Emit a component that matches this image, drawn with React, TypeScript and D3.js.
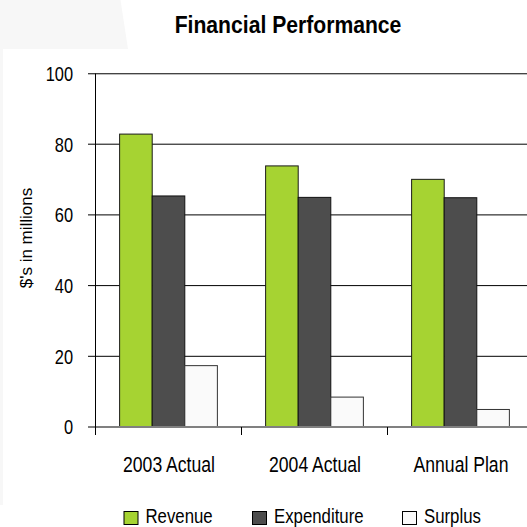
import React from "react";
import * as d3 from "d3";

const categories = ["2003 Actual", "2004 Actual", "Annual Plan"];
const seriesNames = ["Revenue", "Expenditure", "Surplus"];
const revenue = [83, 74, 70.2];
const expenditure = [65.5, 65.1, 65];
const surplus = [17.5, 8.6, 5.1];
const yTicks = [0, 20, 40, 60, 80, 100];
const colors = ["#a6d332", "#4d4d4d", "#fafafa"];
const strokes = ["#1a1a1a", "#111111", "#333333"];

const W = 527;
const H = 527;
const FONT = "'Liberation Sans', Arial, sans-serif";
const SX = 0.8;

export default function App() {
  const values = [revenue, expenditure, surplus];
  const y = d3.scaleLinear().domain([0, 100]).range([427, 73.5]);
  const x0 = d3.scaleBand<string>().domain(categories).range([95, 533]).padding(0);
  const x1 = d3
    .scaleBand<string>()
    .domain(seriesNames)
    .range([0, x0.bandwidth()])
    .paddingInner(0)
    .paddingOuter(0.74);

  const legendSwatchX = [123.5, 252, 402];
  const plotLeft = 95;

  return (
    <svg
      width={W}
      height={H}
      style={{ position: "absolute", left: 0, top: 0, background: "#fff" }}
      fontFamily={FONT}
    >
      <rect x={0} y={0} width={W} height={H} fill="#ffffff" />
      <polygon points="0,0 120.5,0 128,49 3,49 3,505 0,505" fill="#f7f7f7" />

      {/* title */}
      <text
        transform={`translate(288,33) scale(0.9,1)`}
        textAnchor="middle"
        fontWeight="bold"
        fontSize={23.5}
        fill="#000"
      >
        Financial Performance
      </text>

      {/* gridlines */}
      {yTicks.map((t) => {
        const yy = y(t);
        if (t === 0) return null;
        if (t === 100) {
          return (
            <g key={t}>
              <line x1={88} x2={W} y1={yy} y2={yy} stroke="#444" strokeWidth={1} />
              <line x1={88} x2={W} y1={yy + 1} y2={yy + 1} stroke="#bbb" strokeWidth={1} />
            </g>
          );
        }
        return <line key={t} x1={88} x2={W} y1={yy} y2={yy} stroke="#000" strokeWidth={1} />;
      })}

      {/* y tick labels */}
      {yTicks.map((t) => (
        <text
          key={"l" + t}
          transform={`translate(73,${y(t)}) scale(0.8,1)`}
          textAnchor="end"
          dy="0.36em"
          fontSize={20.5}
          fill="#000"
        >
          {t}
        </text>
      ))}

      {/* bars */}
      {categories.map((c, ci) =>
        seriesNames.map((s, si) => {
          const v = values[si][ci];
          const bx = (x0(c) as number) + (x1(s) as number);
          return (
            <rect
              key={c + s}
              x={bx + 0.5}
              y={y(v) + 0.5}
              width={x1.bandwidth()}
              height={y(0) - y(v)}
              fill={colors[si]}
              stroke={strokes[si]}
              strokeWidth={1}
            />
          );
        })
      )}

      {/* zero line */}
      <line x1={88} x2={W} y1={y(0)} y2={y(0)} stroke="#808080" strokeWidth={2} />
      {/* y axis */}
      <line x1={plotLeft + 0.5} x2={plotLeft + 0.5} y1={y(100)} y2={435} stroke="#000" strokeWidth={1} />
      {/* category ticks */}
      {categories.map((c) => (
        <line
          key={"t" + c}
          x1={(x0(c) as number) + 0.5}
          x2={(x0(c) as number) + 0.5}
          y1={y(0)}
          y2={435}
          stroke="#000"
          strokeWidth={1}
        />
      ))}

      {/* category labels */}
      {categories.map((c) => (
        <text
          key={"c" + c}
          transform={`translate(${(x0(c) as number) + x0.bandwidth() / 2 + 1},471.5) scale(${SX},1)`}
          textAnchor="middle"
          fontSize={22}
          fill="#000"
        >
          {c}
        </text>
      ))}

      {/* y axis title */}
      <text
        transform={`translate(32,238) rotate(-90)`}
        textAnchor="middle"
        fontSize={17}
        fill="#000"
      >
        $'s in millions
      </text>

      {/* legend */}
      {seriesNames.map((s, i) => (
        <g key={"lg" + s}>
          <rect
            x={legendSwatchX[i] + 0.5}
            y={511.5}
            width={14}
            height={13}
            fill={colors[i]}
            stroke="#000"
            strokeWidth={1}
          />
          <text
            transform={`translate(${legendSwatchX[i] + 22},522.5) scale(${SX},1)`}
            fontSize={21}
            fill="#000"
          >
            {s}
          </text>
        </g>
      ))}
    </svg>
  );
}
